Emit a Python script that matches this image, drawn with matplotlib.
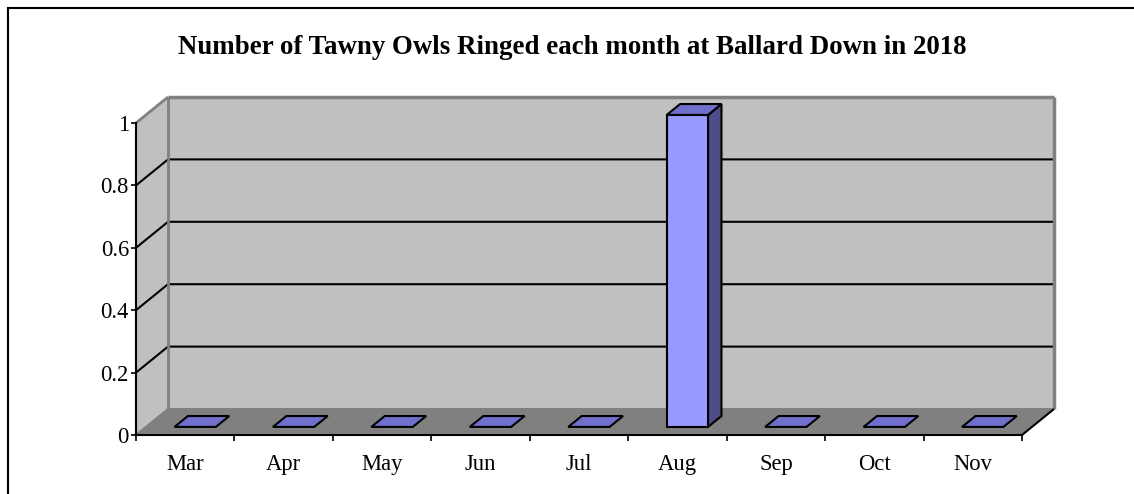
import matplotlib
matplotlib.use("Agg")
import matplotlib.pyplot as plt
from matplotlib.patches import Polygon, Rectangle

months = ["Mar", "Apr", "May", "Jun", "Jul", "Aug", "Sep", "Oct", "Nov"]
counts = [0, 0, 0, 0, 0, 1, 0, 0, 0]
yticks = [0, 0.2, 0.4, 0.6, 0.8, 1]
ytick_labels = ["0", "0.2", "0.4", "0.6", "0.8", "1"]
title = "Number of Tawny Owls Ringed each month at Ballard Down in 2018"

W, H = 1134, 494
fig = plt.figure(figsize=(W / 100, H / 100), dpi=100)
fig.patch.set_facecolor("white")

# front plane of the 3D box (pixels)
x0, x1, yb, yt = 136, 1022, 435, 123
ax = fig.add_axes([x0 / W, (H - yb) / H, (x1 - x0) / W, (yb - yt) / H])
n = len(months)
ax.set_xlim(0, n)
ax.set_ylim(0, 1)
ax.set_facecolor("none")

# depth offsets in data units
DX = 32 / ((x1 - x0) / n)
DY = 26 / (yb - yt)

def P(x, y, z):
    return (x + z * DX, y + z * DY)

wall = "#C0C0C0"
edge_gray = "#808080"
floor_c = "#808080"
ymax = 1.0

# left wall
ax.add_patch(Polygon([P(0, 0, 0), P(0, ymax, 0), P(0, ymax, 1), P(0, 0, 1)],
                     closed=True, facecolor=wall, edgecolor="none", clip_on=False, zorder=1))
# back wall
ax.add_patch(Polygon([P(0, 0, 1), P(n, 0, 1), P(n, ymax, 1), P(0, ymax, 1)],
                     closed=True, facecolor=wall, edgecolor="none", clip_on=False, zorder=1))
# floor
ax.add_patch(Polygon([P(0, 0, 0), P(n, 0, 0), P(n, 0, 1), P(0, 0, 1)],
                     closed=True, facecolor=floor_c, edgecolor="none", clip_on=False, zorder=1))

# gridlines
for v in yticks[1:-1]:
    xs = [P(0, v, 0)[0], P(0, v, 1)[0], P(n, v, 1)[0]]
    ys = [P(0, v, 0)[1], P(0, v, 1)[1], P(n, v, 1)[1]]
    ax.plot(xs, ys, color="black", lw=1.5, clip_on=False, zorder=2, solid_capstyle="butt")

# gray wall edges
def seg(a, b, c, lw):
    ax.plot([a[0], b[0]], [a[1], b[1]], color=c, lw=lw, clip_on=False, zorder=2,
            solid_capstyle="butt")

seg(P(0, ymax, 0), P(0, ymax, 1), edge_gray, 2)
seg(P(0, ymax, 1), P(n, ymax, 1), edge_gray, 2.5)
seg(P(n, ymax, 1), P(n, 0, 1), edge_gray, 2.5)
seg(P(0, 0, 1), P(0, ymax, 1), edge_gray, 2)
seg(P(0, 0, 1), P(n, 0, 1), edge_gray, 1.5)
seg(P(0, 0, 0), P(0, 0, 1), edge_gray, 1.5)
seg(P(n, 0, 0), P(n, 0, 1), "black", 1.5)

# bars
front_c, top_c, side_c = "#9999FF", "#7070CC", "#4D4D87"
bw = 0.42
z0, z1 = 0.31, 0.73
for i, v in enumerate(counts):
    a, b = i + 0.5 - bw / 2, i + 0.5 + bw / 2
    kw = dict(closed=True, edgecolor="black", lw=1.5, clip_on=False, zorder=4,
              joinstyle="miter")
    if v > 0:
        ax.add_patch(Polygon([P(b, 0, z0), P(b, 0, z1), P(b, v, z1), P(b, v, z0)],
                             facecolor=side_c, **kw))
        ax.add_patch(Polygon([P(a, 0, z0), P(b, 0, z0), P(b, v, z0), P(a, v, z0)],
                             facecolor=front_c, **kw))
    ax.add_patch(Polygon([P(a, v, z0), P(b, v, z0), P(b, v, z1), P(a, v, z1)],
                         facecolor=top_c, **kw))

# axes styling
for s in ["top", "right"]:
    ax.spines[s].set_visible(False)
for s in ["left", "bottom"]:
    ax.spines[s].set_color("black")
    ax.spines[s].set_linewidth(1.5)
    ax.spines[s].set_zorder(3)

fs = 16.3
font = "Liberation Serif"
ax.set_yticks(yticks)
ax.set_yticklabels(ytick_labels, fontfamily=font, fontsize=fs)
ax.tick_params(axis="y", direction="out", length=3.6, width=1.2, pad=1.5, colors="black")
ax.set_xticks(range(n + 1))
ax.set_xticklabels([""] * (n + 1))
ax.set_xticks([i + 0.5 for i in range(n)], minor=True)
ax.set_xticklabels(months, minor=True, fontfamily=font, fontsize=fs)
ax.tick_params(axis="x", which="major", direction="out", length=4, width=1.2)
ax.tick_params(axis="x", which="minor", length=0, pad=14)

# title, scaled to measured width
t = fig.text(572 / W, (H - 54) / H, title, ha="center", va="baseline",
             fontfamily=font, fontweight="bold", fontsize=20)
fig.canvas.draw()
w = t.get_window_extent().width
t.set_fontsize(20 * 788 / w)

# outer border
fig.add_artist(Rectangle((8 / W, -0.2), 1.2, (H - 8) / H + 0.2, transform=fig.transFigure,
                         fill=False, edgecolor="black", lw=1.5))

fig.savefig("out.png", dpi=100, facecolor="white")
